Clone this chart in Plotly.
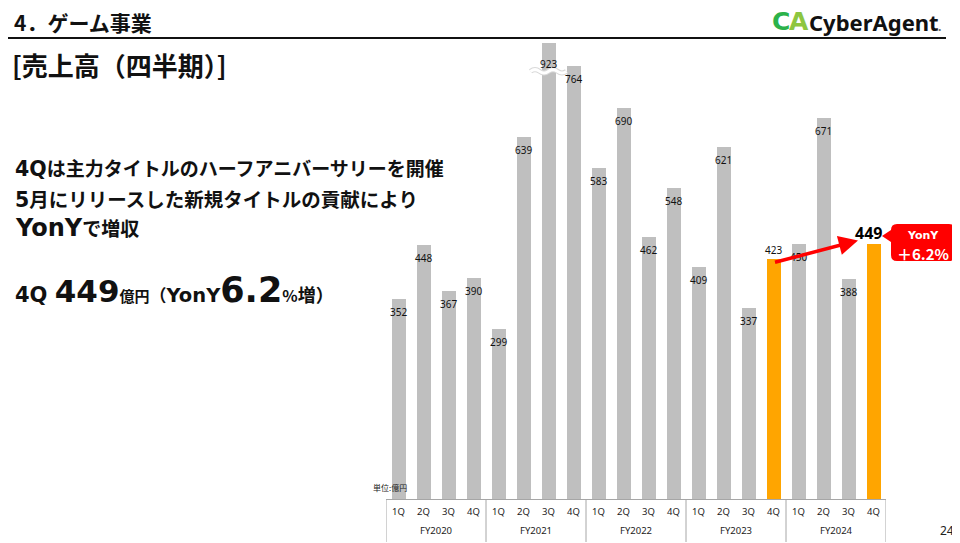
import plotly.graph_objects as go

# ---------------- data ----------------
fiscal_years = ["FY2020", "FY2021", "FY2022", "FY2023", "FY2024"]
quarters = ["1Q", "2Q", "3Q", "4Q"]
revenue = [352, 448, 367, 390,
           299, 639, 923, 764,
           583, 690, 462, 548,
           409, 621, 337, 423,
           450, 671, 388, 449]
highlighted = [("FY2023", "4Q"), ("FY2024", "4Q")]
yony_text = "＋6.2%"

# ---------------- styling ----------------
W, H = 960, 543
OFF = 8                     # default page body margin
FW, FH = W - OFF, H - OFF
JP = "Noto Sans CJK JP"
NUM = "Noto Sans"
LAT = "DejaVu Sans"
GRAY = "#bfbfbf"
ORANGE = "#ffa500"
RED = "#ff0000"
AXIS = "#a6a6a6"
Y_MAX = 804

X0, X1 = 386, 886          # plot area in screen px
YT, YB = 43, 499


def px(x):
    return (x - OFF) / FW


def py(y):
    return 1 - (y - OFF) / FH


outer = [fy for fy in fiscal_years for q in quarters]
inner = [q for fy in fiscal_years for q in quarters]
cats = ["%s %s" % (o, i) for o, i in zip(outer, inner)]
is_hi = [(o, i) in highlighted for o, i in zip(outer, inner)]
colors = [ORANGE if h else GRAY for h in is_hi]
nq = len(quarters)

fig = go.Figure()
fig.add_trace(go.Bar(
    x=cats, y=revenue,
    marker=dict(color=colors, line=dict(width=0)),
    width=0.56, hoverinfo="skip", showlegend=False,
))

annotations = []
shapes = []

# value labels
last = len(revenue) - 1
for i, v in enumerate(revenue):
    yv = min(v, Y_MAX)
    if i == last:
        annotations.append(dict(
            x=i, y=v, xref="x", yref="y", text="<b>%d</b>" % v, showarrow=False,
            yanchor="bottom", xshift=-5, yshift=-2,
            font=dict(family=NUM, size=16, color="#000000")))
    elif is_hi[i]:
        annotations.append(dict(
            x=i, y=v, xref="x", yref="y", text=str(v), showarrow=False,
            yanchor="bottom", yshift=0,
            font=dict(family=NUM, size=10, color="#111111")))
    else:
        shift = -12 if v > Y_MAX else -4
        annotations.append(dict(
            x=i, y=yv, xref="x", yref="y", text=str(v), showarrow=False,
            yanchor="top", yshift=shift,
            font=dict(family=NUM, size=10, color="#111111")))

# fiscal-year group labels and dividers under the axis
for k, fy in enumerate(fiscal_years):
    annotations.append(dict(
        x=k * nq + (nq - 1) / 2, y=py(530), xref="x", yref="paper", text=fy,
        showarrow=False, xanchor="center", yanchor="middle",
        font=dict(family=NUM, size=9.5, color="#222222")))
for k in range(len(fiscal_years) + 1):
    shapes.append(dict(type="line", xref="x", yref="paper",
                       x0=k * nq - 0.5, x1=k * nq - 0.5, y0=py(YB), y1=py(542),
                       line=dict(color=AXIS, width=1)))

# wave break on the clipped bar
for i, v in enumerate(revenue):
    if v > Y_MAX:
        for col, wdt in (("#d9d9d9", 5), ("#ffffff", 3)):
            shapes.append(dict(
                type="path", xref="x", yref="y", layer="above",
                path="M %f,%f Q %f,%f %f,%f T %f,%f T %f,%f T %f,%f" % (
                    i - 0.72, Y_MAX - 50,
                    i - 0.54, Y_MAX - 44, i - 0.36, Y_MAX - 50,
                    i, Y_MAX - 50,
                    i + 0.36, Y_MAX - 50,
                    i + 0.72, Y_MAX - 50),
                line=dict(color=col, width=wdt)))

# YonY arrow between the two highlighted bars
hi_idx = [i for i, h in enumerate(is_hi) if h]
a, b = hi_idx[0], hi_idx[1]
annotations.append(dict(
    x=b - 0.62, y=revenue[b] * 1.015, xref="x", yref="y",
    ax=a, ay=revenue[a] * 0.985, axref="x", ayref="y",
    showarrow=True, arrowhead=2, arrowsize=1.1, arrowwidth=3.5,
    arrowcolor=RED, text="", standoff=0, startstandoff=0))

# callout box
bx0, bx1, by0, by1, r = 891, 955, 224, 261, 6
path = ("M %f,%f L %f,%f Q %f,%f %f,%f L %f,%f Q %f,%f %f,%f L %f,%f Q %f,%f %f,%f "
        "L %f,%f L %f,%f L %f,%f L %f,%f Q %f,%f %f,%f Z") % (
    px(bx0 + r), py(by0), px(bx1 - r), py(by0),
    px(bx1), py(by0), px(bx1), py(by0 + r),
    px(bx1), py(by1 - r), px(bx1), py(by1), px(bx1 - r), py(by1),
    px(bx0 + r), py(by1), px(bx0), py(by1), px(bx0), py(by1 - r),
    px(bx0), py(by0 + 18), px(bx0 - 9), py(by0 + 12), px(bx0), py(by0 + 6),
    px(bx0), py(by0 + r), px(bx0), py(by0), px(bx0 + r), py(by0))
shapes.append(dict(type="path", xref="paper", yref="paper", path=path,
                   fillcolor=RED, line=dict(width=0), layer="above"))
annotations.append(dict(x=px(923), y=py(235.5), xref="paper", yref="paper",
                        text="<b>YonY</b>", showarrow=False, borderpad=0,
                        xanchor="center", yanchor="middle",
                        font=dict(family=LAT, size=11, color="white")))
annotations.append(dict(x=px(923), y=py(253.5), xref="paper", yref="paper",
                        text="<b>%s</b>" % yony_text, showarrow=False, borderpad=0,
                        xanchor="center", yanchor="middle",
                        font=dict(family=JP, size=15, color="white")))

# header
shapes.append(dict(type="line", xref="paper", yref="paper",
                   x0=px(5), x1=px(946), y0=py(38), y1=py(38),
                   line=dict(color="#111111", width=2)))


def txt(x, y, s, size, font=JP, color="#111111", xanchor="left", yanchor="middle"):
    annotations.append(dict(x=px(x), y=py(y), xref="paper", yref="paper", text=s,
                            showarrow=False, xanchor=xanchor, yanchor=yanchor,
                            borderpad=0,
                            font=dict(family=font, size=size, color=color)))


def lat(s, size):
    return "<span style='font-family:%s;font-size:%spx'>%s</span>" % (LAT, size, s)


txt(13, 22, "<b>4．ゲーム事業</b>", 21)
txt(11, 65, "<b>[売上高（四半期）]</b>", 26)
txt(14, 167, "<b>%sは主力タイトルのハーフアニバーサリーを開催</b>" % lat("4Q", 20.5), 19)
txt(14, 198, "<b>%s月にリリースした新規タイトルの貢献により</b>" % lat("5", 20.5), 19.5)
txt(14, 228, "<b>%sで増収</b>" % lat("YonY", 24), 19)
txt(14, 290,
    "<b>%s%s<span style='font-size:15px'>億円</span><span style='font-size:17px'>（</span>%s%s"
    "<span style='font-size:16px'>%%</span><span style='font-size:18px'>増）</span></b>"
    % (lat("4Q ", 21), lat("449", 31), lat("YonY", 19.5), lat("6.2", 35)), 15)

txt(372, 487, "単位:億円", 8, color="#222222")
txt(955, 530, "24", 12, font=NUM, color="#222222", xanchor="right")

# logo
txt(771, 22, "<b>C</b>", 25, font=LAT, color="#2cb24a")
txt(788, 22, "<b>A</b>", 25, font=LAT, color="#8dc63f")
txt(808, 22, "<b>CyberAgent</b>", 22, font=NUM, color="#111111")
txt(937, 27, "<b>.</b>", 12, font=NUM, color="#666666")

fig.update_layout(
    width=FW, height=FH,
    margin=dict(l=0, r=0, t=0, b=0),
    paper_bgcolor="white", plot_bgcolor="white",
    bargap=0.0,
    xaxis=dict(domain=[px(X0), px(X1)], type="category",
               range=[-0.5, len(revenue) - 0.5],
               tickvals=cats, ticktext=inner,
               showline=True, linecolor=AXIS, linewidth=1,
               ticks="", ticklabelstandoff=4,
               tickfont=dict(family=NUM, size=9.5, color="#222222"),
               showgrid=False, zeroline=False, fixedrange=True),
    yaxis=dict(domain=[py(YB), py(YT)], range=[0, Y_MAX],
               visible=False, showgrid=False, zeroline=False, fixedrange=True),
    annotations=annotations, shapes=shapes,
)

fig.write_html("out.html")
